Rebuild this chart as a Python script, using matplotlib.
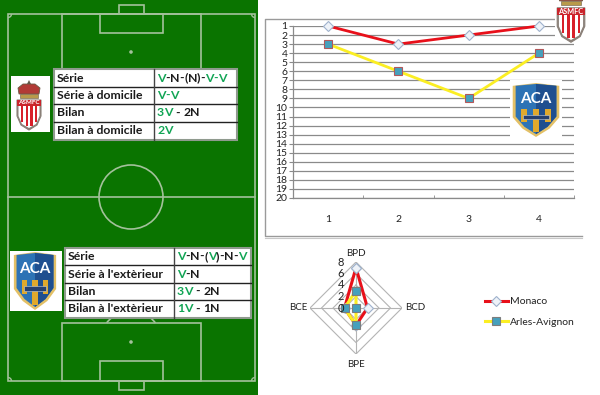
import numpy as np
import matplotlib
matplotlib.use('Agg')
import matplotlib.pyplot as plt
from matplotlib.patches import Rectangle, Polygon, Circle, Arc

plt.rcParams['font.family'] = ['Lato', 'DejaVu Sans']

# Data
journees = [1, 2, 3, 4]
rang_monaco = [1, 3, 2, 1]
rang_arles = [3, 6, 9, 4]
rang_ticks = list(range(1, 21))

axes_radar = ['BPD', 'BCD', 'BPE', 'BCE']
radar_monaco = [7, 2, 3, 2]
radar_arles = [3, 0, 3, 2]
radar_ticks = [0, 2, 4, 6, 8]

noms = ['Monaco', 'Arles-Avignon']

table_monaco = [
    ('Série', 'V-N-(N)-V-V'),
    ('Série à domicile', 'V-V'),
    ('Bilan', '3V - 2N'),
    ('Bilan à domicile', '2V'),
]
table_arles = [
    ('Série', 'V-N-(V)-N-V'),
    ("Série à l'extèrieur", 'V-N'),
    ('Bilan', '3V - 2N'),
    ("Bilan à l'extèrieur", '1V - 1N'),
]

W, H = 600, 395
GREEN = '#0a7400'
LINE = '#a3c19b'
TXT = '#1a1a1a'
VERT = '#12a555'

fig = plt.figure(figsize=(W / 100, H / 100), dpi=100, facecolor='white')


def px_axes(l, t, r, b, **kw):
    return fig.add_axes([l / W, 1 - b / H, (r - l) / W, (b - t) / H], **kw)


# background layer, coordinates are pixels
bg = fig.add_axes([0, 0, 1, 1], zorder=0)
bg.set_xlim(0, W)
bg.set_ylim(H, 0)
bg.axis('off')

# Pitch
bg.add_patch(Rectangle((0, 0), 258, H, fc=GREEN, ec='none'))
for x, y, w, h in [(8, 14, 247, 367), (62, 14, 139, 58), (62, 323, 139, 58),
                   (100, 14, 63, 19), (100, 361, 63, 20),
                   (119, 5, 25, 9), (119, 381, 25, 9)]:
    bg.add_patch(Rectangle((x, y), w, h, fc='none', ec=LINE, lw=1.2))
bg.plot([8, 255], [197, 197], color=LINE, lw=1.2)
bg.add_patch(Circle((131, 197), 32, fc='none', ec=LINE, lw=1.2))
for y in [52, 342]:
    bg.add_patch(Circle((131, y), 1.8, fc=LINE, ec='none'))
bg.add_patch(Arc((131, 52), 62, 62, theta1=38, theta2=142, ec=LINE, lw=1.2))
bg.add_patch(Arc((131, 342), 62, 62, theta1=218, theta2=322, ec=LINE, lw=1.2))
for cx, cy, t1, t2 in [(8, 14, 0, 90), (255, 14, 90, 180), (8, 381, 270, 360), (255, 381, 180, 270)]:
    bg.add_patch(Arc((cx, cy), 7, 7, theta1=t1, theta2=t2, ec=LINE, lw=1))

# Frame of the line chart
bg.plot([557, 265, 265, 582], [19, 19, 236, 236], color='#9a9a9a', lw=1)
bg.plot([265, 582], [238, 238], color='#c8c8c8', lw=0.8)

# Line chart
ax = px_axes(293, 26, 574, 198, zorder=1)
ax.patch.set_alpha(0)
ax.set_xlim(0.5, 4.5)
ax.set_ylim(20, 1)
ax.set_yticks(rang_ticks)
ax.set_yticklabels([str(v) for v in rang_ticks], fontsize=7.5, color='#222222')
ax.set_xticks(journees)
ax.set_xticklabels([str(v) for v in journees], fontsize=7.5, color='#222222')
ax.tick_params(axis='x', length=0, pad=12)
ax.tick_params(axis='y', length=3, pad=1, color='#8a8a8a', width=0.8)
ax.set_xticks([0.5, 1.5, 2.5, 3.5, 4.5], minor=True)
ax.tick_params(axis='x', which='minor', length=2, direction='in', color='#8a8a8a')
ax.yaxis.grid(True, color='#8a8a8a', lw=0.9)
ax.set_axisbelow(True)
for s in ['top', 'right']:
    ax.spines[s].set_visible(False)
for s in ['left', 'bottom']:
    ax.spines[s].set_color('#8a8a8a')
    ax.spines[s].set_linewidth(0.9)
ax.plot(journees, rang_monaco, color='#e8101a', lw=2, marker='D', ms=4.6, mfc='#eef2f8',
        mec='#9fb2cc', mew=0.8, clip_on=False)
ax.plot(journees, rang_arles, color='#fbee23', lw=2, marker='s', ms=6.4, mfc='#46a0bd',
        mec='#b3585a', mew=0.8, clip_on=False)

# Radar
rad = px_axes(310, 262, 402, 354, projection='polar', zorder=1)
rad.patch.set_alpha(0)
rad.set_theta_zero_location('N')
rad.set_theta_direction(-1)
rad.set_ylim(0, 8)
rad.grid(False)
rad.spines['polar'].set_visible(False)
rad.set_xticks([])
rad.set_yticks([])
angles = np.deg2rad([0, 90, 180, 270])
ferme = np.append(angles, angles[0])
for v in radar_ticks[1:]:
    rad.plot(ferme, [v] * 5, color='#b4b4b4', lw=0.8, zorder=1)
for a in angles:
    rad.plot([a, a], [0, 8], color='#b4b4b4', lw=0.8, zorder=1)
l1, = rad.plot(ferme, radar_monaco + radar_monaco[:1], color='#e8101a', lw=2.2, marker='D', ms=4.6,
               mfc='#eef2f8', mec='#9fb2cc', mew=0.8, clip_on=False, zorder=3, label=noms[0])
l2, = rad.plot(ferme, radar_arles + radar_arles[:1], color='#fbee23', lw=2.2, marker='s', ms=6.4,
               mfc='#46a0bd', mec='#7d7d7d', mew=0.8, clip_on=False, zorder=4, label=noms[1])
for a, nom, dx, dy, ha, va in zip(angles, axes_radar, [0, 2, 0, -2], [-3, 0, 4, 0],
                                  ['center', 'left', 'center', 'right'],
                                  ['bottom', 'center', 'top', 'center']):
    rad.annotate(nom, (a, 8), xytext=(dx, -dy), textcoords='offset points', ha=ha, va=va,
                 fontsize=7, color='#222222', annotation_clip=False)
for v in radar_ticks:
    rad.annotate(str(v), (0, v), xytext=(-11, 0), textcoords='offset points', ha='center', va='center',
                 fontsize=8, color='#222222', annotation_clip=False, zorder=5)
fig.legend(handles=[l1, l2], loc='upper left', bbox_to_anchor=(485 / W, 1 - 297 / H), frameon=False,
           fontsize=7.5, handlelength=2.2, handletextpad=0.2, labelspacing=1.05, labelcolor='#222222',
           borderpad=0, borderaxespad=0)

# Top layer : tables and logos
top = fig.add_axes([0, 0, 1, 1], zorder=3)
top.patch.set_alpha(0)
top.set_xlim(0, W)
top.set_ylim(H, 0)
top.axis('off')
renderer = fig.canvas.get_renderer()


def largeur(s):
    # width in pixels of a piece of text, the dot keeps trailing spaces counted
    t = top.text(0, 0, s + '.', fontsize=8.8, fontweight='bold')
    p = top.text(0, 0, '.', fontsize=8.8, fontweight='bold')
    w = t.get_window_extent(renderer).width - p.get_window_extent(renderer).width
    t.remove()
    p.remove()
    return w


def colored(x, y, s):
    # V and its count in green, everything else in black
    for i, c in enumerate(s):
        avant = s[i - 1] if i > 0 else ''
        apres = s[i + 1] if i < len(s) - 1 else ''
        vert = c == 'V' or (c.isdigit() and apres == 'V') or (c == '-' and avant == 'V' and apres == 'V')
        top.text(x + largeur(s[:i]), y, c, fontsize=8.8, fontweight='bold', va='center', ha='left',
                 color=VERT if vert else TXT)


def table(rows, x0, x1, xs, ys):
    top.add_patch(Rectangle((x0, ys[0]), x1 - x0, ys[-1] - ys[0], fc='white', ec='#8f9a8e', lw=1.5))
    for y in ys[1:-1]:
        top.plot([x0, x1], [y, y], color='#222222', lw=1)
    top.plot([xs, xs], [ys[0], ys[-1]], color='#444444', lw=1)
    for i, (a, b) in enumerate(rows):
        ym = (ys[i] + ys[i + 1]) / 2
        top.text(x0 + 3, ym, a, fontsize=8.8, fontweight='bold', va='center', ha='left', color=TXT)
        colored(xs + 3, ym, b)


table(table_monaco, 54, 237, 154, [69, 87, 104, 122, 140])
table(table_arles, 65, 251, 174, [248, 265, 283, 300, 318])


def logo_monaco(cx, cy, s):
    # shield with red stripes and a small crown, s = scale
    def pts(p):
        return np.array(p) * s + (cx, cy)
    top.add_patch(Polygon(pts([(-12, -8), (12, -8), (12, 8), (8, 17), (0, 22), (-8, 17), (-12, 8)]),
                          fc='#8a8078', ec='#8a8078', lw=0.8))
    top.add_patch(Polygon(pts([(-10.5, -2), (10.5, -2), (10.5, 8), (7, 16), (0, 20), (-7, 16), (-10.5, 8)]),
                          fc='white', ec='none'))
    for dx, h in [(-8, 16), (-3.4, 20), (1.2, 20), (5.8, 16)]:
        top.add_patch(Rectangle((cx + dx * s, cy - 2 * s), 2.3 * s, h * s, fc='#d8202a', ec='none'))
    top.add_patch(Rectangle((cx - 12 * s, cy - 8 * s), 24 * s, 6 * s, fc='#c9252c', ec='none'))
    top.text(cx, cy - 5 * s, 'ASMFC', fontsize=4.6 * s, fontweight='bold', color='white', ha='center', va='center')
    # crown
    top.add_patch(Polygon(pts([(-10, -14), (-11, -20), (-6, -24), (6, -24), (11, -20), (10, -14)]),
                          fc='#b23a36', ec='#6a5a44', lw=0.6))
    top.add_patch(Rectangle((cx - 9 * s, cy - 14 * s), 18 * s, 3.5 * s, fc='#b89a4a', ec='#6a5a44', lw=0.4))
    top.add_patch(Polygon(pts([(-2, -24), (0, -28), (2, -24)]), fc='#5f5a4a', ec='none'))


def logo_aca(cx, cy, sx, sy, fs):
    def pts(p):
        return np.array(p) * (sx, sy) + (cx, cy)
    top.add_patch(Polygon(pts([(-24, -26), (0, -29), (24, -26), (24, 8), (14, 20), (0, 29), (-14, 20), (-24, 8)]),
                          fc='#e3c066', ec='none'))
    top.add_patch(Polygon(pts([(-21, -26), (0, -28), (21, -26), (21, 7), (12, 18), (0, 26), (-12, 18), (-21, 7)]),
                          fc='#2d73b5', ec='none'))
    top.add_patch(Polygon(pts([(0, -28), (21, -26), (21, 7), (12, 18), (0, 26)]), fc='#1f4f8f', ec='none'))
    for dx, h in [(-15, 14), (-3, 25), (9, 14)]:
        top.add_patch(Rectangle((cx + dx * sx, cy - 1 * sy), 6 * sx, h * sy, fc='#e0a92c', ec='none'))
    top.text(cx, cy - 12 * sy, 'ACA', fontsize=fs, fontweight='bold', color='white', ha='center', va='center')
    top.add_patch(Rectangle((cx - 13 * sx, cy + 5 * sy), 26 * sx, 5 * sy, fc='#26406e', ec='#c8d0dc', lw=0.4))


top.add_patch(Rectangle((11, 76), 39, 56, fc='white', ec='none'))
logo_monaco(29, 108, 1.0)
top.add_patch(Rectangle((10, 251), 52, 60, fc='white', ec='none'))
logo_aca(35, 281, 0.88, 1.0, 11)
top.add_patch(Rectangle((510, 80), 52, 58, fc='white', ec='none'))
logo_aca(536, 110, 0.97, 0.93, 11)
top.add_patch(Rectangle((555, 0), 32, 43, fc='white', ec='none'))
logo_monaco(571, 17, 1.15)

fig.savefig('out.png', dpi=100)
